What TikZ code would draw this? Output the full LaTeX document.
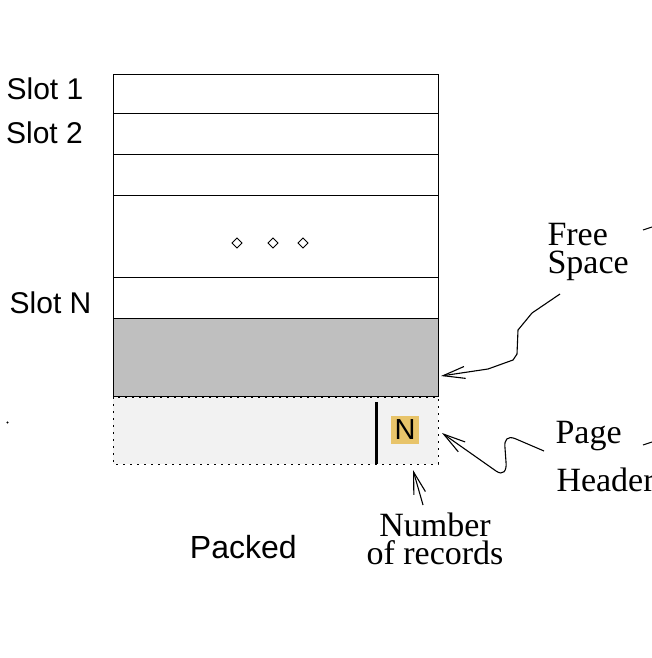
\documentclass[tikz,border=0pt]{standalone}
\usepackage{fontspec}
\setmainfont{Liberation Serif}
\setsansfont{Liberation Sans}
\usetikzlibrary{arrows.meta}
\definecolor{freegray}{HTML}{BFBFBF}
\definecolor{hdrgray}{HTML}{F2F2F2}
\definecolor{cntgold}{HTML}{E8C46A}
\tikzset{
  slotlbl/.style={font=\sffamily\fontsize{30}{30}\selectfont, anchor=base},
  notelbl/.style={font=\fontsize{34}{28}\selectfont, anchor=base west},
  pointer/.style={-{Straight Barb[length=22pt,width=12pt]}, line width=1.1pt},
}
\begin{document}
\begin{tikzpicture}[x=1pt,y=1pt,line width=1pt]
\tikzstyle{every node}+=[inner sep=0pt]
\useasboundingbox (0,0) rectangle (652,-658);
\foreach \top/\bot in {75/114,114/154,154/195,195/277,277/318}
  \draw [black] (113,-\top) rectangle (438,-\bot);
\draw [black, fill=freegray] (113,-318) rectangle (438,-396);
\fill [hdrgray] (113,-397) rectangle (438,-464);
\draw [black, dash pattern=on 2pt off 5pt] (113,-397) rectangle (438,-464);
\draw [black, line width=3pt] (376,-402) -- (376,-464);
\draw (405,-430) node (count) [fill=cntgold, minimum size=28pt, font=\sffamily\fontsize{29}{29}\selectfont] {N};
\foreach \dx in {237,273,303}
  \draw [black, line width=0.9pt] (\dx,-238) -- (\dx+5,-243) -- (\dx,-248) -- (\dx-5,-243) -- cycle;
\draw (45,-100) node (slotone) [slotlbl] {Slot 1};
\draw (44.5,-143) node (slottwo) [slotlbl] {Slot 2};
\draw (50.5,-313) node (slotn) [slotlbl] {Slot N};
\draw (243.3,-558.3) node (packed) [font=\sffamily\fontsize{32}{32}\selectfont, anchor=base] {Packed};
\draw (547,-273) node (freespace) [notelbl, align=left] {Free\\Space};
\draw (555,-443) node (page) [notelbl] {Page};
\draw (556,-491.7) node (header) [notelbl] {Header};
\draw (435,-564) node (records) [notelbl, anchor=base, align=center, font=\fontsize{34}{27.3}\selectfont] {Number\\of records};
\fill [black] (7.5,-422.5) circle (1.1);
\coordinate (freetail) at (560,-294);
\coordinate (freetip) at (441,-376);
\draw [pointer] (freetail) -- (532,-313) -- (518,-330) -- (517,-354) -- (513,-360) -- (488,-369) -- (freetip);
\coordinate (pagetail) at (544,-451);
\coordinate (pagetip) at (442,-433);
\draw [pointer] (pagetail) -- (516,-439) .. controls (507,-435) and (504,-440) .. (505,-448) -- (506,-462) .. controls (507,-471) and (503,-476) .. (496,-471) -- (pagetip);
\coordinate (counttail) at (423,-505);
\coordinate (counttip) at (413,-470);
\draw [pointer] (counttail) -- (counttip);
\coordinate (freeout) at (652,-227);
\coordinate (pageout) at (652,-442);
\draw [black] (643,-230) -- (freeout);
\draw [black] (643,-445) -- (pageout);
\end{tikzpicture}
\end{document}
